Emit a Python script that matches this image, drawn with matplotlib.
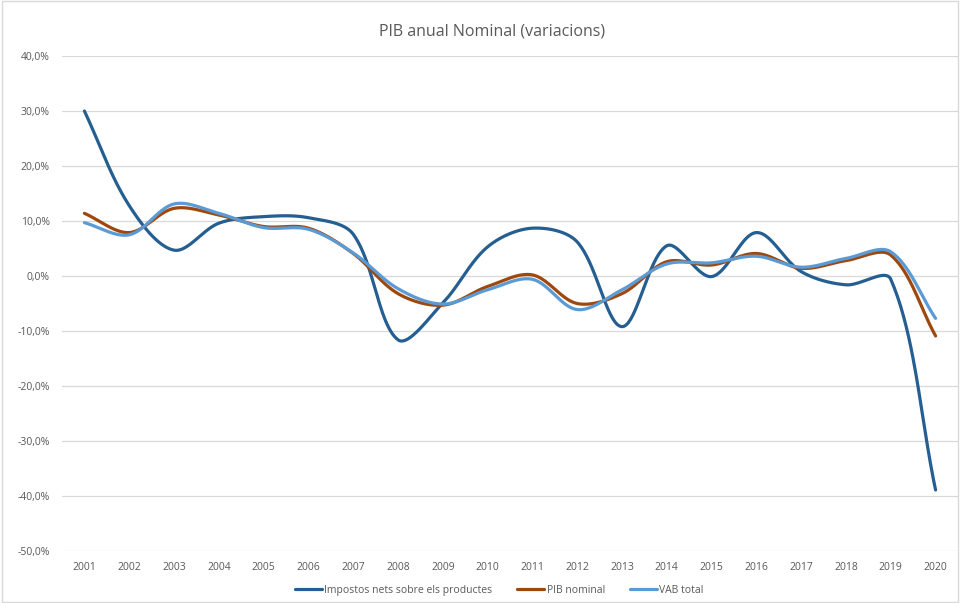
import matplotlib
matplotlib.use("Agg")
import matplotlib.pyplot as plt
from matplotlib.patches import Rectangle
from matplotlib.ticker import FuncFormatter
import numpy as np

years = list(range(2001, 2021))

impostos = [30.0, 12.8, 4.7, 9.6, 10.8, 10.6, 7.6, -11.6, -4.9, 5.3,
            8.7, 6.2, -9.2, 5.5, -0.1, 7.9, 0.8, -1.6, -0.6, -38.9]
pib_nominal = [11.4, 7.9, 12.3, 11.1, 9.0, 8.7, 4.1, -3.2, -5.3, -1.9,
               0.2, -5.0, -3.2, 2.6, 2.0, 4.1, 1.4, 2.8, 3.8, -10.9]
vab_total = [9.7, 7.5, 13.1, 11.4, 8.8, 8.5, 4.2, -2.3, -5.1, -2.5,
             -0.6, -6.1, -2.5, 2.2, 2.4, 3.6, 1.6, 3.2, 4.4, -7.7]

series = [
    ("Impostos nets sobre els productes", impostos, "#255E91"),
    ("PIB nominal", pib_nominal, "#9E480E"),
    ("VAB total", vab_total, "#5B9BD5"),
]

# pixels per data unit, used so the smoothing behaves like it does on screen
SX, SY = 44.9, 5.5


def smooth(xs, ys, steps=40):
    # bezier through the points, handles scaled by neighbour chord lengths
    p = np.column_stack([np.asarray(xs, float) * SX, np.asarray(ys, float) * SY])
    n = len(p)
    d = np.linalg.norm(np.diff(p, axis=0), axis=1)
    h_in = np.zeros_like(p)
    h_out = np.zeros_like(p)
    for i in range(n):
        if i == 0:
            tan = p[1] - p[0]
            h_out[i] = tan / 3
        elif i == n - 1:
            tan = p[-1] - p[-2]
            h_in[i] = tan / 3
        else:
            tan = p[i + 1] - p[i - 1]
            tot = d[i - 1] + d[i]
            h_in[i] = tan * d[i - 1] / tot / 3
            h_out[i] = tan * d[i] / tot / 3
    t = np.linspace(0, 1, steps, endpoint=False)[:, None]
    pts = []
    for i in range(n - 1):
        b0 = p[i]
        b1 = p[i] + h_out[i]
        b2 = p[i + 1] - h_in[i + 1]
        b3 = p[i + 1]
        seg = ((1 - t) ** 3) * b0 + 3 * ((1 - t) ** 2) * t * b1 \
            + 3 * (1 - t) * t ** 2 * b2 + t ** 3 * b3
        pts.append(seg)
    pts.append(p[-1:])
    pts = np.vstack(pts)
    return pts[:, 0] / SX, pts[:, 1] / SY


plt.rcParams['font.family'] = ['Open Sans', 'DejaVu Sans']

fig = plt.figure(figsize=(9.6, 6.03), dpi=100)
ax = fig.add_axes([0.0646, 0.0862, 0.9333, 0.8209])

for name, vals, color in series:
    sx, sy = smooth(years, vals)
    ax.plot(sx, sy, color=color, linewidth=2.3, label=name,
            solid_capstyle="round")

ax.set_xlim(2000.5, 2020.5)
ax.set_ylim(-50, 40)
ax.set_yticks(range(-50, 41, 10))
ax.set_xticks(years)
ax.yaxis.set_major_formatter(FuncFormatter(lambda v, p: ("%.1f%%" % v).replace(".", ",")))
ax.grid(axis="y", color="#D9D9D9", linewidth=0.9)
ax.set_axisbelow(True)
for s in ax.spines.values():
    s.set_visible(False)
ax.tick_params(axis="both", length=0, labelsize=7.5, colors="#595959", pad=8)
ax.tick_params(axis="y", pad=9)

fig.text(0.513, 0.948, "PIB anual Nominal (variacions)", ha="center", va="center",
         fontsize=11.5, color="#595959")

fig.legend(loc="center", bbox_to_anchor=(0.52, 0.021), ncol=3, frameon=False,
           fontsize=7.5, labelcolor="#595959", handlelength=2.6,
           handletextpad=0.2, columnspacing=2.4)

fig.patches.append(Rectangle((0.002, 0.002), 0.996, 0.996, transform=fig.transFigure,
                             fill=False, edgecolor="#D9D9D9", linewidth=1))

fig.savefig("out.png", dpi=100)
